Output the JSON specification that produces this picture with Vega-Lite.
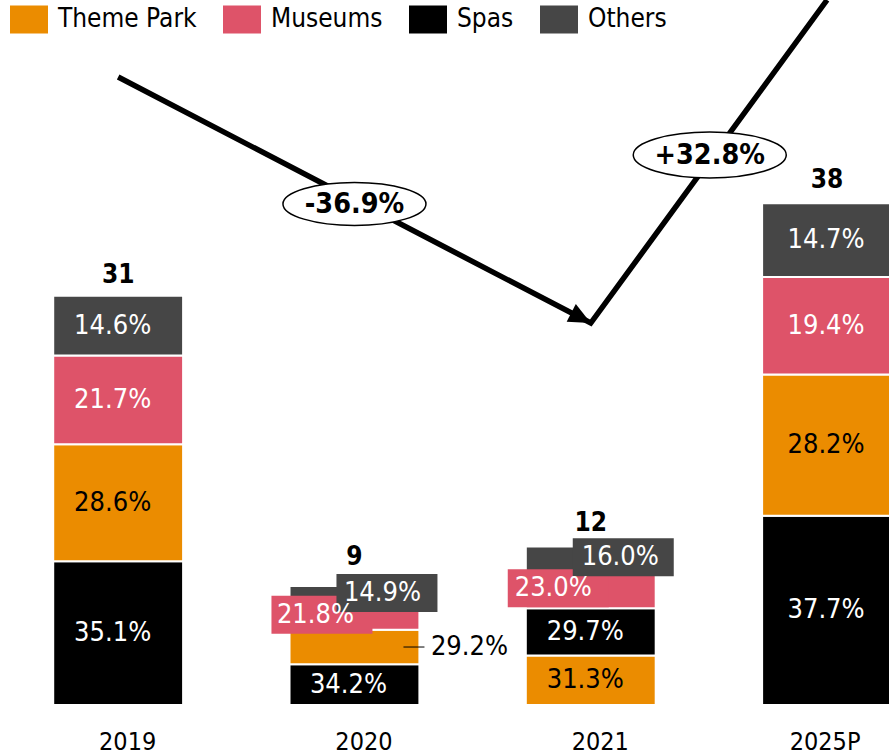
{
  "$schema": "https://vega.github.io/schema/vega-lite/v6.json",
  "width": 889,
  "height": 705,
  "autosize": "none",
  "padding": {"left": 0, "top": 0, "right": 0, "bottom": 51},
  "background": "white",
  "config": {"view": {"stroke": null}, "font": "DejaVu Sans Condensed, DejaVu Sans"},
  "datasets": {
    "segments": [
      {"year": "2019", "cat": "Spas", "seq": 0, "pct": 0.351, "value": 10.881},
      {"year": "2019", "cat": "Theme Park", "seq": 1, "pct": 0.286, "value": 8.866},
      {"year": "2019", "cat": "Museums", "seq": 2, "pct": 0.217, "value": 6.727},
      {"year": "2019", "cat": "Others", "seq": 3, "pct": 0.146, "value": 4.526},
      {"year": "2020", "cat": "Spas", "seq": 0, "pct": 0.342, "value": 3.078},
      {"year": "2020", "cat": "Theme Park", "seq": 1, "pct": 0.292, "value": 2.628},
      {"year": "2020", "cat": "Museums", "seq": 2, "pct": 0.218, "value": 1.962},
      {"year": "2020", "cat": "Others", "seq": 3, "pct": 0.149, "value": 1.341},
      {"year": "2021", "cat": "Theme Park", "seq": 0, "pct": 0.313, "value": 3.756},
      {"year": "2021", "cat": "Spas", "seq": 1, "pct": 0.297, "value": 3.564},
      {"year": "2021", "cat": "Museums", "seq": 2, "pct": 0.230, "value": 2.760},
      {"year": "2021", "cat": "Others", "seq": 3, "pct": 0.160, "value": 1.920},
      {"year": "2025P", "cat": "Spas", "seq": 0, "pct": 0.377, "value": 14.326},
      {"year": "2025P", "cat": "Theme Park", "seq": 1, "pct": 0.282, "value": 10.716},
      {"year": "2025P", "cat": "Museums", "seq": 2, "pct": 0.194, "value": 7.372},
      {"year": "2025P", "cat": "Others", "seq": 3, "pct": 0.147, "value": 5.586}
    ],
    "totals": [
      {"year": "2019", "total": 31},
      {"year": "2020", "total": 9},
      {"year": "2021", "total": 12},
      {"year": "2025P", "total": 38}
    ],
    "arrow": [
      {"year": "2019", "y": 47.57},
      {"year": "2021", "y": 28.93},
      {"year": "2025P", "y": 53.4}
    ],
    "changes": [
      {"year": "2020", "y": 37.95, "label": "-36.9%"},
      {"year": "2021", "y": 41.66, "label": "+32.8%"}
    ]
  },
  "layer": [
    {
      "data": {"name": "segments"},
      "transform": [
        {"stack": "value", "groupby": ["year"], "sort": [{"field": "seq", "order": "ascending"}], "as": ["v0", "v1"]}
      ],
      "mark": {"type": "bar", "stroke": "white", "strokeWidth": 2},
      "encoding": {
        "x": {
          "field": "year", "type": "nominal", "sort": ["2019", "2020", "2021", "2025P"],
          "scale": {"type": "band", "range": [0, 892], "paddingInner": 0.4503, "paddingOuter": 0.1126, "align": 1},
          "axis": {
            "title": null, "domain": false, "ticks": false, "labelAngle": 0,
            "labelFont": "DejaVu Sans Condensed, DejaVu Sans", "labelFontSize": 25, "labelColor": "black",
            "labelBaseline": "alphabetic", "labelPadding": 44,
            "labelOffset": {"condition": {"test": "datum.value == '2025P'", "value": -2}, "value": 9.5}
          }
        },
        "y": {"field": "v0", "type": "quantitative", "scale": {"domain": [0, 53.4], "nice": false, "zero": true}, "axis": null},
        "y2": {"field": "v1"},
        "color": {
          "field": "cat", "type": "nominal",
          "scale": {"domain": ["Theme Park", "Museums", "Spas", "Others"], "range": ["#EB8C00", "#DE5369", "#000000", "#464646"]},
          "legend": {
            "title": null, "orient": "none", "legendX": 10, "legendY": 0, "direction": "horizontal",
            "symbolType": "M-1,-0.737H1V0.737H-1Z", "symbolSize": 1444, "symbolStrokeWidth": 0, "symbolOpacity": 1,
            "labelFont": "DejaVu Sans Condensed, DejaVu Sans", "labelFontSize": 26, "labelColor": "black",
            "labelOffset": 10, "columnPadding": 26, "padding": 0, "offset": 0
          }
        }
      }
    },
    {
      "data": {"name": "segments"},
      "transform": [
        {"stack": "value", "groupby": ["year"], "sort": [{"field": "seq", "order": "ascending"}], "as": ["v0", "v1"]},
        {"calculate": "(datum.v0 + datum.v1) / 2", "as": "vm"},
        {"filter": "(datum.year == '2020' || datum.year == '2021') && (datum.cat == 'Museums' || datum.cat == 'Others')"}
      ],
      "mark": {
        "type": "point", "filled": true, "opacity": 1, "strokeWidth": 0,
        "shape": "M-1,-0.376H1V0.376H-1Z", "size": 10201,
        "xOffset": {"expr": "datum.cat == 'Museums' ? -32.5 : 32.5"}, "yOffset": -2
      },
      "encoding": {
        "x": {"field": "year", "type": "nominal", "sort": ["2019", "2020", "2021", "2025P"]},
        "y": {"field": "vm", "type": "quantitative"},
        "fill": {
          "field": "cat", "type": "nominal",
          "scale": {"domain": ["Theme Park", "Museums", "Spas", "Others"], "range": ["#EB8C00", "#DE5369", "#000000", "#464646"]},
          "legend": null
        }
      }
    },
    {
      "data": {"name": "segments"},
      "transform": [
        {"stack": "value", "groupby": ["year"], "sort": [{"field": "seq", "order": "ascending"}], "as": ["v0", "v1"]},
        {"calculate": "(datum.v0 + datum.v1) / 2", "as": "vm"}
      ],
      "mark": {
        "type": "text", "font": "DejaVu Sans Condensed, DejaVu Sans", "fontSize": 27, "baseline": "middle", "align": "center",
        "xOffset": {"expr": "datum.year == '2020' ? (datum.cat == 'Museums' ? -39 : datum.cat == 'Others' ? 28 : datum.cat == 'Theme Park' ? 115 : -6) : datum.year == '2021' ? (datum.cat == 'Museums' ? -37.5 : datum.cat == 'Others' ? 29.5 : -5.5) : datum.year == '2025P' ? -1 : -5.5"},
        "yOffset": {"expr": "(datum.year == '2020' || datum.year == '2021') && (datum.cat == 'Museums' || datum.cat == 'Others') ? -2 : 0"}
      },
      "encoding": {
        "x": {"field": "year", "type": "nominal", "sort": ["2019", "2020", "2021", "2025P"]},
        "y": {"field": "vm", "type": "quantitative"},
        "text": {"field": "pct", "type": "quantitative", "format": ".1%"},
        "color": {"condition": {"test": "datum.cat == 'Theme Park'", "value": "black"}, "value": "white"}
      }
    },
    {
      "data": {"name": "segments"},
      "transform": [
        {"stack": "value", "groupby": ["year"], "sort": [{"field": "seq", "order": "ascending"}], "as": ["v0", "v1"]},
        {"calculate": "(datum.v0 + datum.v1) / 2", "as": "vm"},
        {"filter": "datum.year == '2020' && datum.cat == 'Theme Park'"}
      ],
      "mark": {"type": "tick", "size": 21, "thickness": 1, "color": "black", "opacity": 1, "xOffset": 59.5},
      "encoding": {
        "x": {"field": "year", "type": "nominal", "sort": ["2019", "2020", "2021", "2025P"]},
        "y": {"field": "vm", "type": "quantitative"}
      }
    },
    {
      "data": {"name": "totals"},
      "mark": {
        "type": "text", "font": "DejaVu Sans Condensed, DejaVu Sans", "fontSize": 26, "fontWeight": "bold", "baseline": "alphabetic", "align": "center", "dy": -13, "color": "black",
        "yOffset": {"expr": "datum.year == '2020' ? -8 : datum.year == '2021' ? -3 : datum.year == '2025P' ? -2 : 0"}
      },
      "encoding": {
        "x": {"field": "year", "type": "nominal", "sort": ["2019", "2020", "2021", "2025P"]},
        "y": {"field": "total", "type": "quantitative"},
        "text": {"field": "total", "type": "quantitative"}
      }
    },
    {
      "data": {"name": "arrow"},
      "mark": {"type": "line", "color": "black", "strokeWidth": 5.5, "strokeJoin": "miter", "strokeCap": "butt"},
      "encoding": {
        "x": {"field": "year", "type": "nominal", "sort": ["2019", "2020", "2021", "2025P"]},
        "y": {"field": "y", "type": "quantitative"}
      }
    },
    {
      "data": {"name": "arrow"},
      "transform": [{"filter": "datum.year == '2021'"}],
      "mark": {"type": "point", "shape": "M0,0L-2,-0.9L-2,0.9Z", "size": 484, "filled": true, "color": "black", "opacity": 1, "strokeWidth": 0, "angle": 27.5},
      "encoding": {
        "x": {"field": "year", "type": "nominal", "sort": ["2019", "2020", "2021", "2025P"]},
        "y": {"field": "y", "type": "quantitative"}
      }
    },
    {
      "data": {"name": "changes"},
      "mark": {
        "type": "point", "filled": false, "fill": "white", "stroke": "black", "strokeWidth": 1.5, "opacity": 1, "fillOpacity": 1,
        "shape": "M-1,0C-1,-0.1657,-0.5523,-0.3,0,-0.3C0.5523,-0.3,1,-0.1657,1,0C1,0.1657,0.5523,0.3,0,0.3C-0.5523,0.3,-1,0.1657,-1,0Z",
        "size": {"expr": "datum.label == '+32.8%' ? 23409 : 20449"},
        "xOffset": {"expr": "datum.label == '+32.8%' ? 119 : 0"}
      },
      "encoding": {
        "x": {"field": "year", "type": "nominal", "sort": ["2019", "2020", "2021", "2025P"]},
        "y": {"field": "y", "type": "quantitative"}
      }
    },
    {
      "data": {"name": "changes"},
      "mark": {
        "type": "text", "font": "DejaVu Sans Condensed, DejaVu Sans", "fontSize": 28.5, "fontWeight": "bold", "baseline": "middle", "align": "center", "color": "black",
        "xOffset": {"expr": "datum.label == '+32.8%' ? 119 : 0"}
      },
      "encoding": {
        "x": {"field": "year", "type": "nominal", "sort": ["2019", "2020", "2021", "2025P"]},
        "y": {"field": "y", "type": "quantitative"},
        "text": {"field": "label", "type": "nominal"}
      }
    }
  ]
}
